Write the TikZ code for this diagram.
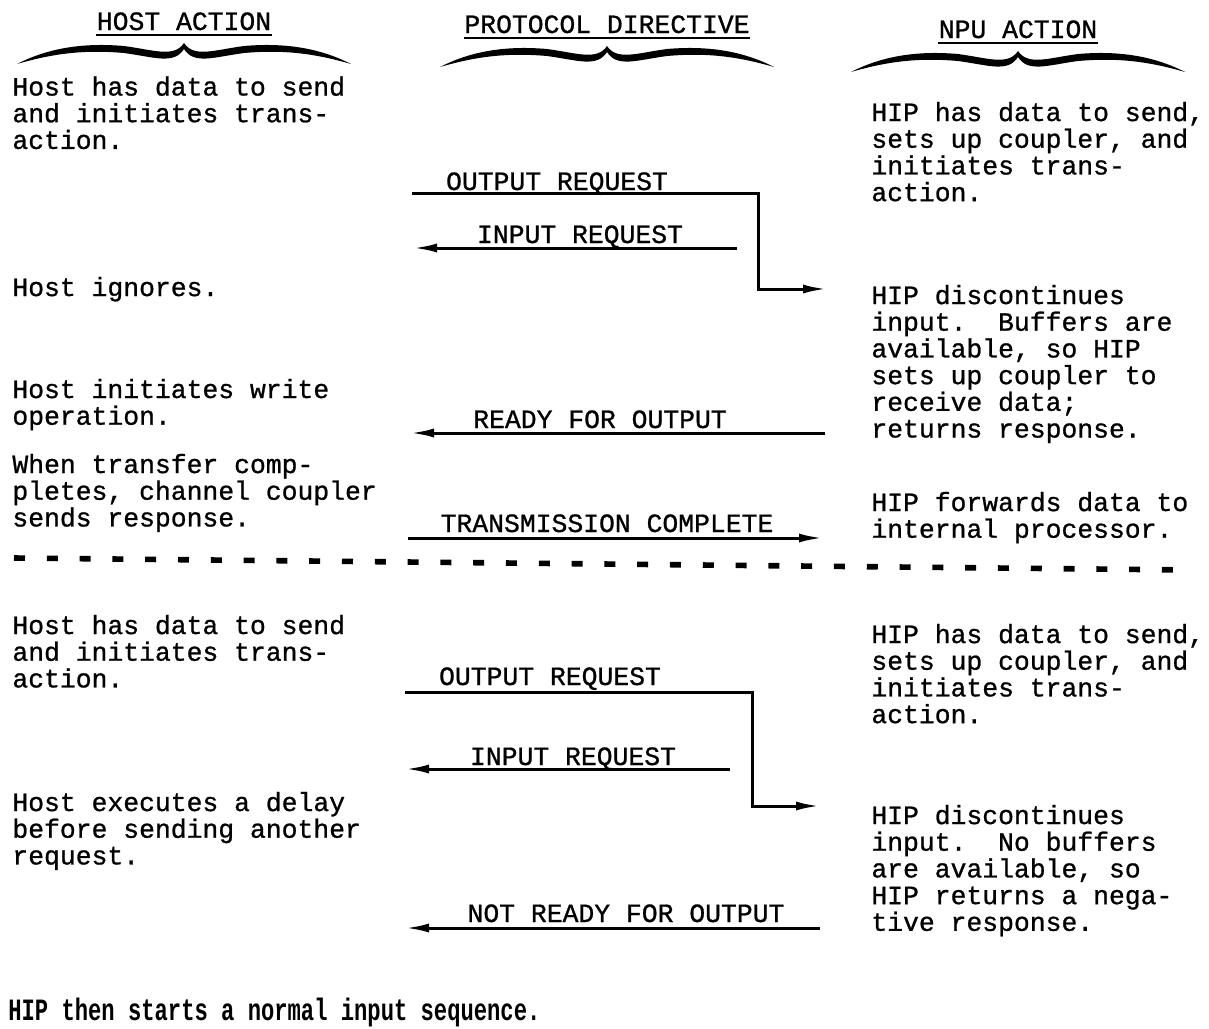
\documentclass[tikz,border=0pt]{standalone}
\usepackage{fontspec}
\usepackage{graphicx}
\newfontfamily\typeface{Liberation Mono}[FakeBold=0.9]
\newfontfamily\notefont{Liberation Mono}
\usetikzlibrary{calc}
\usetikzlibrary{positioning}
\usetikzlibrary{arrows.meta}
\tikzset{every picture/.style={/utils/exec={\typeface\frenchspacing\fontsize{13.2}{13.35}\selectfont}}}
\tikzset{
  colhead/.style={inner sep=0pt, anchor=base},
  action/.style={inner sep=0pt, anchor=north west, align=left},
  directive/.style={inner sep=0pt, anchor=base},
  signal/.style={line width=1.5pt, -{Latex[length=12pt,width=4.5pt]}},
  separator/.style={line width=2.8pt, dash pattern=on 5.5pt off 10.9pt}
}
% curly brace under a column head (units are the picture's px)
\newcommand{\colbrace}[1]{
  \fill[shift={($(#1.base)+(0,13)$)}]
    (-167,21) .. controls (-132,3) and (-95,0) .. (-60,3)
    .. controls (-30,7) and (-10,15) .. (0,0)
    .. controls (10,15) and (30,7) .. (60,3)
    .. controls (95,0) and (132,3) .. (167,21)
    .. controls (126,9) and (95,7) .. (60,10)
    .. controls (30,14) and (10,22) .. (0,6)
    .. controls (-10,22) and (-30,14) .. (-60,10)
    .. controls (-95,7) and (-126,9) .. (-167,21) -- cycle;
}

\begin{document}
\begin{tikzpicture}[x=0.5pt, y=-0.5pt]
  \useasboundingbox (0,0) rectangle (1209,1028);

  % column heads
  \node[colhead] (hosthead) at (184,30) {HOST ACTION};
  \node[colhead] (protohead) at (607,33) {PROTOCOL DIRECTIVE};
  \node[colhead] (npuhead) at (1018,38) {NPU ACTION};
  \foreach \h in {hosthead,protohead,npuhead} {
    \draw[line width=1pt] ($(\h.base west)+(0,5)$) -- ($(\h.base east)+(0,5)$);
    \colbrace{\h}
  }

  % host side
  \begin{scope}[every node/.style={action}]
    \node (hostsend) at (12,76) {Host has data to send\\and initiates trans-\\action.};
    \node (hostignore) at (12,276.5) {Host ignores.};
    \node (hostwrite) at (12,378.5) {Host initiates write\\operation.};
    \node (hostdone) at (12,453.5) {When transfer comp-\\pletes, channel coupler\\sends response.};
    \node (hostsendb) at (12,614.5) {Host has data to send\\and initiates trans-\\action.};
    \node (hostdelay) at (12,791.5) {Host executes a delay\\before sending another\\request.};
  \end{scope}

  % NPU side
  \begin{scope}[every node/.style={action}]
    \node (hipsend) at (871,101.5) {HIP has data to send,\\sets up coupler, and\\initiates trans-\\action.};
    \node (hipstop) at (871,284.5) {HIP discontinues\\input.\ \ Buffers are\\available, so HIP\\sets up coupler to\\receive data;\\returns response.};
    \node (hipfwd) at (871,491.5) {HIP forwards data to\\internal processor.};
    \node (hipsendb) at (871,623.5) {HIP has data to send,\\sets up coupler, and\\initiates trans-\\action.};
    \node (hipstopb) at (871,804.5) {HIP discontinues\\input.\ \ No buffers\\are available, so\\HIP returns a nega-\\tive response.};
  \end{scope}

  % directives, first exchange
  \node[directive] (outreq) at (557,190) {OUTPUT REQUEST};
  \node[directive] (inreq) at (580,243) {INPUT REQUEST};
  \node[directive] (ready) at (600,428) {READY FOR OUTPUT};
  \node[directive] (txdone) at (607,532) {TRANSMISSION COMPLETE};

  \coordinate (outreqL) at (412,193);
  \coordinate (outreqK) at (758,193);
  \coordinate (outreqE) at (827,289);
  \coordinate (inreqR) at (737,248);
  \coordinate (inreqE) at (413,248);
  \coordinate (readyR) at (825,433);
  \coordinate (readyE) at (410,433);
  \coordinate (txdoneL) at (408,538);
  \coordinate (txdoneE) at (823,538);

  \draw[signal] (outreqL) -- (outreqK) |- (outreqE);
  \draw[signal] (inreqR) -- (inreqE);
  \draw[signal] (readyR) -- (readyE);
  \draw[signal] (txdoneL) -- (txdoneE);

  \coordinate (sepL) at (14,558);
  \coordinate (sepR) at (1192,570);
  \draw[separator] (sepL) -- (sepR);

  % directives, second exchange
  \node[directive] (outreqb) at (550,685) {OUTPUT REQUEST};
  \node[directive] (inreqb) at (573,765) {INPUT REQUEST};
  \node[directive] (notready) at (626,922) {NOT READY FOR OUTPUT};

  \coordinate (outreqbL) at (405,692);
  \coordinate (outreqbK) at (752,692);
  \coordinate (outreqbE) at (820,806);
  \coordinate (inreqbR) at (730,769);
  \coordinate (inreqbE) at (405,769);
  \coordinate (notreadyR) at (820,928);
  \coordinate (notreadyE) at (405,928);

  \draw[signal] (outreqbL) -- (outreqbK) |- (outreqbE);
  \draw[signal] (inreqbR) -- (inreqbE);
  \draw[signal] (notreadyR) -- (notreadyE);

  \node[anchor=base west, inner sep=0pt] (hipnote) at (8,1020)
    {\notefont\bfseries\fontsize{15.5}{15.5}\selectfont\scalebox{0.715}[1]{HIP then starts a normal input sequence.}};
\end{tikzpicture}
\end{document}
